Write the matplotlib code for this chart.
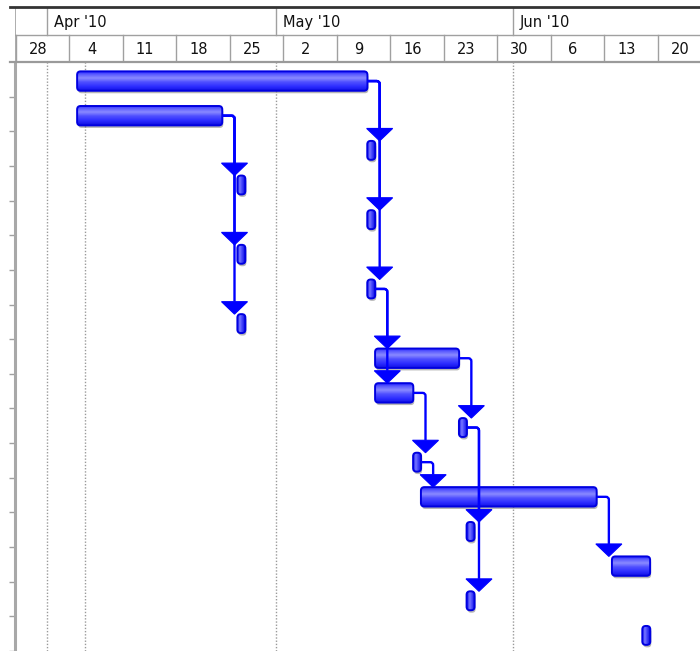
import numpy as np
import pandas as pd
import matplotlib
matplotlib.use("Agg")
import matplotlib.pyplot as plt
import matplotlib.dates as mdates
from matplotlib.patches import FancyBboxPatch, Polygon, PathPatch
from matplotlib.path import Path
from matplotlib.lines import Line2D
from matplotlib.colors import LinearSegmentedColormap

# ---------------- schedule ----------------
task_kind = ["bar", "bar", "ms", "ms", "ms", "ms", "ms", "ms",
             "bar", "bar", "ms", "ms", "bar", "ms", "bar", "ms", "ms"]
task_start = ["2010-04-05", "2010-04-05", "2010-05-13", "2010-04-26",
              "2010-05-13", "2010-04-26", "2010-05-13", "2010-04-26",
              "2010-05-14", "2010-05-14", "2010-05-25", "2010-05-19",
              "2010-05-20", "2010-05-26", "2010-06-14", "2010-05-26",
              "2010-06-18"]
task_finish = ["2010-05-13", "2010-04-24", "2010-05-13", "2010-04-26",
               "2010-05-13", "2010-04-26", "2010-05-13", "2010-04-26",
               "2010-05-25", "2010-05-19", "2010-05-25", "2010-05-19",
               "2010-06-12", "2010-05-26", "2010-06-19", "2010-05-26",
               "2010-06-18"]

# finish-to-start links (row index of predecessor -> successor)
link_from = [0, 0, 0, 1, 1, 1, 6, 6, 8, 9, 11, 10, 10, 12]
link_to = [2, 4, 6, 3, 5, 7, 8, 9, 10, 11, 12, 13, 15, 14]

# ---------------- timescale ----------------
timeline_origin = "2010-03-28"
month_starts = ["2010-04-01", "2010-05-01", "2010-06-01"]
month_labels = ["Apr '10", "May '10", "Jun '10"]
week_labels = ["28", "4", "11", "18", "25", "2", "9", "16", "23", "30", "6", "13", "20"]
status_date = "2010-04-06"

# ---------------- layout ----------------
W, H = 700, 651
PX_DAY = 7.64
ROW_PX = 34.8
LEFT_PX = 15
ORIGIN_PX = 16
CHART_TOP = 62
HDR_TOP = 7

BLUE = "#0000ff"
EDGE = "#0000e0"
GRID = "#a0a0a0"


def num(s):
    return mdates.date2num(pd.Timestamp(s))


t0 = num(timeline_origin)
week_starts = [t0 + 7 * k for k in range(len(week_labels))]
xlim = (t0 - (ORIGIN_PX - LEFT_PX) / PX_DAY, t0 + (W - ORIGIN_PX) / PX_DAY)
n_vis = (H - CHART_TOP) / ROW_PX
ylim = (n_vis - 0.5, -0.5)

BAR_H = 19.5 / ROW_PX
MS_H = 19 / ROW_PX
MS_W = 8 / PX_DAY
Y_OFF = 0.05
AH = 12.5 / ROW_PX
AW = 26 / PX_DAY
ASPECT = PX_DAY / ROW_PX

bar_cmap = LinearSegmentedColormap.from_list(
    "barfill", [(0.0, "#1c1cff"), (0.15, "#5a5aff"), (0.35, "#8a8aff"),
                (0.55, "#5050ff"), (0.8, "#2a2aff"), (1.0, "#1010e0")])
ms_cmap = LinearSegmentedColormap.from_list(
    "msfill", [(0.0, "#1414f0"), (0.35, "#7878ff"), (0.6, "#4a4aff"),
               (1.0, "#1010e0")])

fig = plt.figure(figsize=(W / 100, H / 100), dpi=100)
fig.patch.set_facecolor("white")

ax = fig.add_axes([LEFT_PX / W, 0, (W - LEFT_PX) / W, (H - CHART_TOP) / H])
hdr = fig.add_axes([LEFT_PX / W, 1 - CHART_TOP / H, (W - LEFT_PX) / W,
                    (CHART_TOP - HDR_TOP) / H])


def rounded(x, y, w, h, r_px, **kw):
    r = r_px / PX_DAY
    return FancyBboxPatch((x, y), w, h,
                          boxstyle=f"round,pad=0,rounding_size={r}",
                          mutation_aspect=ASPECT, **kw)


def shaded_box(x0, x1, yc, h, cmap, horizontal, r_px, z):
    y0 = yc - h / 2
    shadow = rounded(x0 + 1.0 / PX_DAY, y0 + 2.5 / ROW_PX, x1 - x0, h, r_px,
                     facecolor="#707070", edgecolor="none", alpha=0.5,
                     zorder=z - 0.2)
    ax.add_patch(shadow)
    outline = rounded(x0, y0, x1 - x0, h, r_px, facecolor="none",
                      edgecolor=EDGE, lw=1.4, zorder=z + 0.1)
    ax.add_patch(outline)
    grad = np.linspace(0, 1, 64)
    arr = grad.reshape(1, -1) if horizontal else grad.reshape(-1, 1)
    im = ax.imshow(arr, cmap=cmap, extent=(x0, x1, y0 + h, y0),
                   origin="upper", aspect="auto", interpolation="bilinear",
                   zorder=z)
    im.set_clip_path(outline)


# gridlines
for d in month_starts + [status_date]:
    ax.axvline(num(d), color="#9a9a9a", lw=1, ls=(0, (1, 1.3)), zorder=1)

# tasks
row_y = []
x_end = []
for i, (kind, s, f) in enumerate(zip(task_kind, task_start, task_finish)):
    yc = i + Y_OFF
    row_y.append(yc)
    if kind == "bar":
        xs, xe = num(s), num(f)
        shaded_box(xs, xe, yc, BAR_H, bar_cmap, False, 3.5, 3)
        x_end.append(xe)
    else:
        xc = num(s) + 0.5
        shaded_box(xc - MS_W / 2, xc + MS_W / 2, yc, MS_H, ms_cmap, True, 3.5, 3)
        x_end.append(xc + MS_W / 2)

# dependency connectors
rx, ry = 3 / PX_DAY, 3 / ROW_PX
for p, q in zip(link_from, link_to):
    if task_kind[p] == "bar":
        xc = num(task_finish[p]) + 1.6
    else:
        xc = num(task_start[p]) + 2.6
    ys = row_y[p]
    xs = x_end[p]
    h = BAR_H if task_kind[q] == "bar" else MS_H
    tip = row_y[q] - h / 2
    verts = [(xs, ys), (xc - rx, ys), (xc, ys), (xc, ys + ry), (xc, tip - AH)]
    codes = [Path.MOVETO, Path.LINETO, Path.CURVE3, Path.CURVE3, Path.LINETO]
    ax.add_patch(PathPatch(Path(verts, codes), fill=False, edgecolor=BLUE,
                           lw=1.7, zorder=6, capstyle="butt"))
    ax.add_patch(Polygon([(xc - AW / 2, tip - AH), (xc + AW / 2, tip - AH),
                          (xc, tip)], closed=True, facecolor=BLUE,
                         edgecolor=BLUE, lw=0.8, zorder=6))

ax.set_xlim(*xlim)
ax.set_ylim(*ylim)
ax.set_xticks([])
ax.set_yticks(np.arange(0.5, n_vis, 1.0))
ax.tick_params(axis="y", direction="out", length=4, width=1, colors=GRID,
               labelleft=False)
for side in ("top", "right", "bottom"):
    ax.spines[side].set_visible(False)
ax.spines["left"].set_color("#a8a8a8")
ax.spines["left"].set_linewidth(2.2)
ax.set_facecolor("white")

# ---------------- timescale header ----------------
hdr.set_xlim(*xlim)
hdr.set_ylim(2, 0)
hdr.axis("off")
hdr.axhline(1.0, color=GRID, lw=1)
hdr.axvline(xlim[0], color=GRID, lw=1.2)
for m, lab in zip(month_starts, month_labels):
    x = num(m)
    hdr.plot([x, x], [0, 1], color=GRID, lw=1)
    hdr.text(x + 7 / PX_DAY, 0.56, lab, ha="left", va="center",
             fontsize=10.5, color="#111111")
for x, lab in zip(week_starts, week_labels):
    hdr.plot([x, x], [1, 2], color=GRID, lw=1)
    hdr.text(x + 2.9, 1.55, lab, ha="center", va="center",
             fontsize=10.5, color="#111111")

# header frame lines
fig.add_artist(Line2D([10 / W, 1], [1 - HDR_TOP / H] * 2, color="#333333",
                      lw=2, transform=fig.transFigure))
fig.add_artist(Line2D([10 / W, 1], [1 - (CHART_TOP - 0.5) / H] * 2,
                      color="#9a9a9a", lw=1.6, transform=fig.transFigure))

fig.savefig("out.png", dpi=100, facecolor="white")
